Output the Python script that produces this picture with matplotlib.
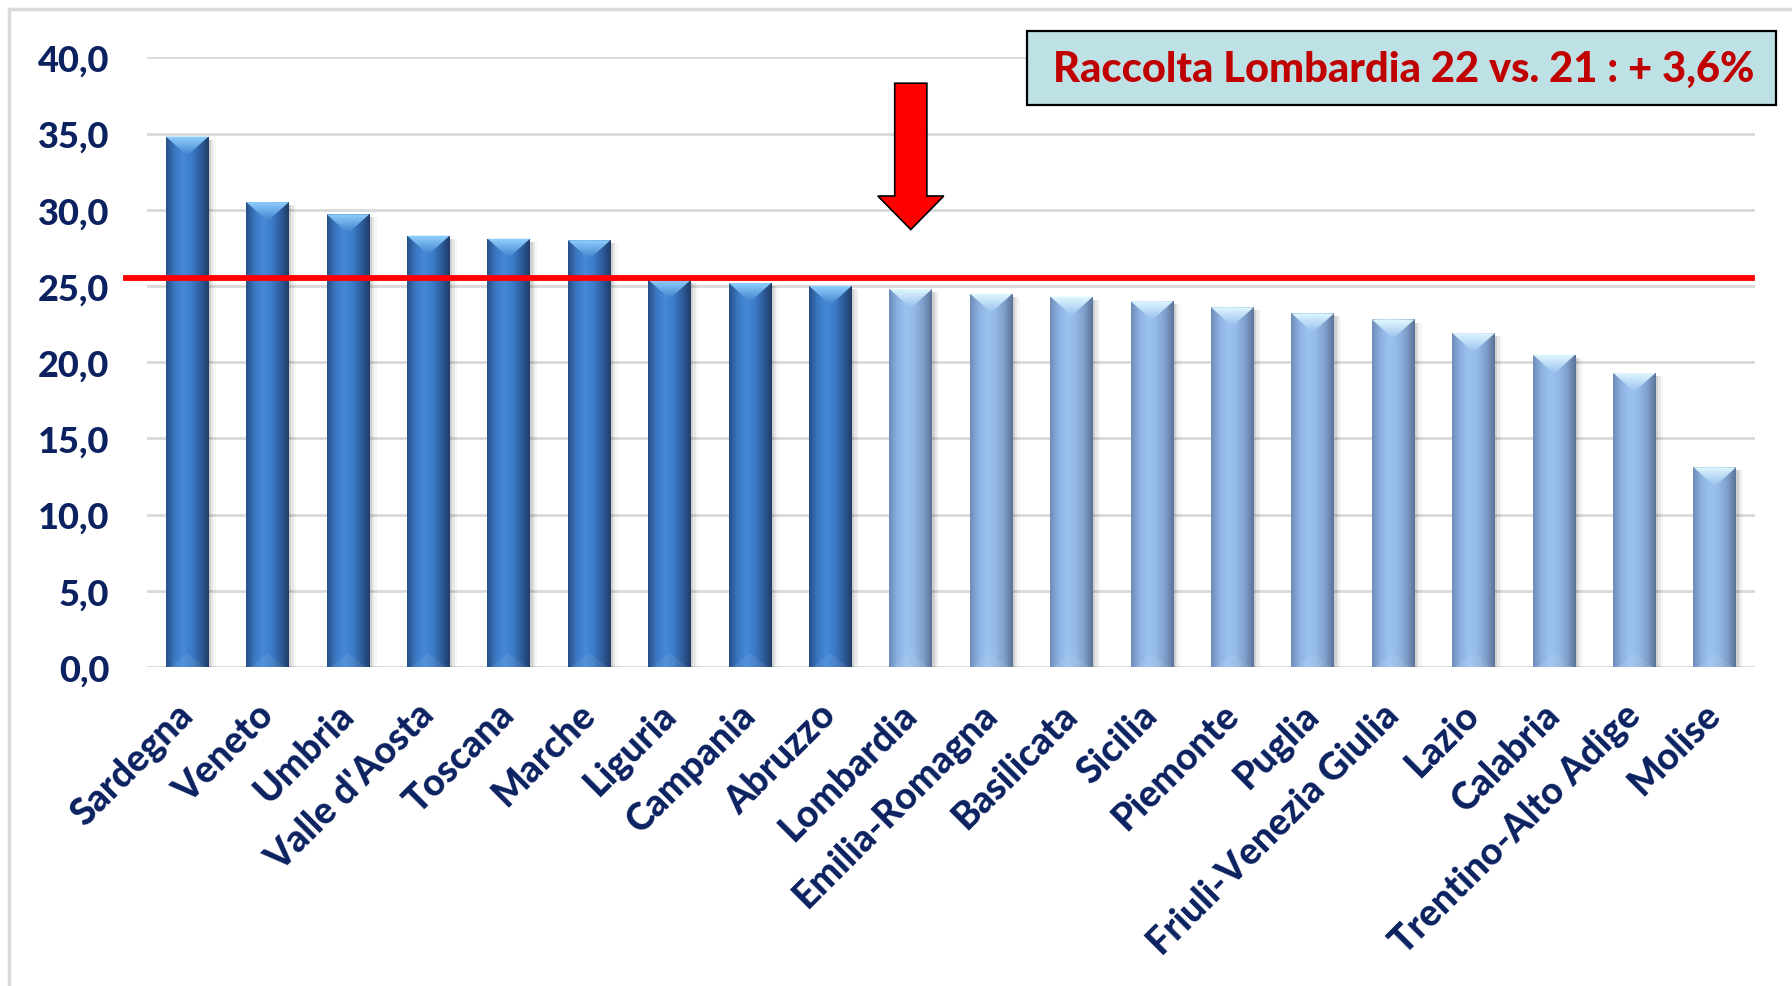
import numpy as np
import matplotlib
matplotlib.use("Agg")
import matplotlib.pyplot as plt
from matplotlib.colors import LinearSegmentedColormap
from matplotlib.patches import Polygon, Rectangle
from matplotlib.lines import Line2D

# ---------------- data ----------------
regions = ["Sardegna", "Veneto", "Umbria", "Valle d'Aosta", "Toscana", "Marche",
           "Liguria", "Campania", "Abruzzo", "Lombardia", "Emilia-Romagna",
           "Basilicata", "Sicilia", "Piemonte", "Puglia", "Friuli-Venezia Giulia",
           "Lazio", "Calabria", "Trentino-Alto Adige", "Molise"]
values = [34.8, 30.5, 29.7, 28.3, 28.1, 28.0, 25.4, 25.2, 25.0, 24.8, 24.5,
          24.3, 24.0, 23.6, 23.2, 22.8, 21.9, 20.5, 19.3, 13.1]
reference_value = 25.5
highlight = "Lombardia"
box_text = "Raccolta Lombardia 22 vs. 21 : + 3,6%"
yticks = [0, 5, 10, 15, 20, 25, 30, 35, 40]
ytick_labels = ["0,0", "5,0", "10,0", "15,0", "20,0", "25,0", "30,0", "35,0", "40,0"]

# ---------------- style ----------------
FONT = "Lato"
WEIGHT = "black"
NAVY = "#0B2160"
GRID = "#D9D9D9"

W, H = 1792, 987
fig = plt.figure(figsize=(W / 100, H / 100), dpi=100)
fig.patch.set_facecolor("white")

ax = fig.add_axes([147 / W, 1 - 668 / H, (1755 - 147) / W, (668 - 58.3) / H])
for s in ax.spines.values():
    s.set_visible(False)
ax.set_yticks(yticks)
ax.set_yticklabels(ytick_labels, fontsize=26, fontweight=WEIGHT, color=NAVY, family=FONT)
ax.tick_params(axis="y", length=0, pad=27)
ax.yaxis.grid(True, color=GRID, linewidth=2.0, zorder=0)
ax.set_axisbelow(True)

x = np.arange(len(regions))
ax.set_xticks(x)
ax.set_xticklabels(regions, rotation=45, ha="right", va="center",
                   rotation_mode="anchor", fontsize=27, fontweight=WEIGHT,
                   color=NAVY, family=FONT)
ax.tick_params(axis="x", length=0, pad=30)

dark_cmap = LinearSegmentedColormap.from_list(
    "dark", ["#284F86", "#3B78C2", "#4589D8", "#3C7CC8", "#2E5F9E", "#1F3C66"])
light_cmap = LinearSegmentedColormap.from_list(
    "light", ["#6D8CB8", "#8CB2E2", "#9CC3F0", "#93B9E6", "#7F9FCB", "#5A7398"])
dark_top = LinearSegmentedColormap.from_list("dt", ["#3F80CC", "#92D2FF"])
light_top = LinearSegmentedColormap.from_list("lt", ["#98BFEC", "#E2FAFF"])

hi = regions.index(highlight)
bar_w = 0.53
bars = ax.bar(x, values, width=bar_w, color="none", edgecolor="none", zorder=2)
hgrad = np.linspace(0, 1, 128).reshape(1, -1)
vgrad = np.linspace(0, 1, 64).reshape(-1, 1)
bevel_h = 1.25
for i, (rect, v) in enumerate(zip(bars, values)):
    dark = v > values[hi]
    cm = dark_cmap if dark else light_cmap
    tcm = dark_top if dark else light_top
    x0 = rect.get_x()
    # soft shadow
    for k, a in enumerate([0.10, 0.06, 0.03]):
        ax.add_patch(Rectangle((x0 + bar_w, 0), 0.03 * (k + 1), v - 0.2,
                               facecolor="#000000", alpha=a, edgecolor="none", zorder=1.5))
    im = ax.imshow(hgrad, extent=[x0, x0 + bar_w, 0, v], aspect="auto", cmap=cm,
                   zorder=2.1, interpolation="bilinear")
    im.set_clip_path(rect)
    tri = Polygon([[x0, v], [x0 + bar_w, v], [x0 + bar_w / 2, v - bevel_h]],
                  closed=True, facecolor="none", edgecolor="none")
    ax.add_patch(tri)
    imt = ax.imshow(vgrad, extent=[x0, x0 + bar_w, v - bevel_h, v], aspect="auto",
                    cmap=tcm, origin="lower", zorder=2.2, interpolation="bilinear")
    imt.set_clip_path(tri)
    # subtle bottom bevel
    btri = Polygon([[x0 + 0.04, 0], [x0 + bar_w - 0.04, 0], [x0 + bar_w / 2, 0.9]],
                   closed=True, facecolor="#FFFFFF", alpha=0.08, edgecolor="none", zorder=2.3)
    ax.add_patch(btri)

ax.set_xlim(-0.5, len(regions) - 0.5)
ax.set_ylim(0, 40)

# reference line
ax.add_line(Line2D([-0.76, len(regions) - 0.54], [reference_value, reference_value],
                   color="#FF0000", linewidth=4.2, zorder=3, clip_on=False))

# arrow over highlighted region
shaft, head = 0.20, 0.41
tip_y, head_y, top_y = 28.7, 30.9, 38.3
arrow = Polygon([[hi - shaft, top_y], [hi + shaft, top_y], [hi + shaft, head_y],
                 [hi + head, head_y], [hi, tip_y], [hi - head, head_y],
                 [hi - shaft, head_y]], closed=True, facecolor="#FF0000",
                edgecolor="black", linewidth=1.2, zorder=4, clip_on=False)
ax.add_patch(arrow)

# text box
fig.patches.append(Rectangle((1027 / W, 1 - 106 / H), 749 / W, 74 / H,
                             transform=fig.transFigure, facecolor="#BDE1E4",
                             edgecolor="black", linewidth=1.6, zorder=5))
fig.text((1027 + 1776) / 2 / W + 0.001, 1 - 70 / H, box_text, ha="center", va="center",
         fontsize=30, fontweight=WEIGHT, color="#C00000", family=FONT, zorder=6)

# outer frame (left & top)
fig.add_artist(Line2D([9 / W, 9 / W], [0, 1 - 10 / H], transform=fig.transFigure,
                      color=GRID, linewidth=2.5))
fig.add_artist(Line2D([9 / W, 1], [1 - 10 / H, 1 - 10 / H], transform=fig.transFigure,
                      color=GRID, linewidth=2.5))

fig.savefig("out.png", dpi=100)
